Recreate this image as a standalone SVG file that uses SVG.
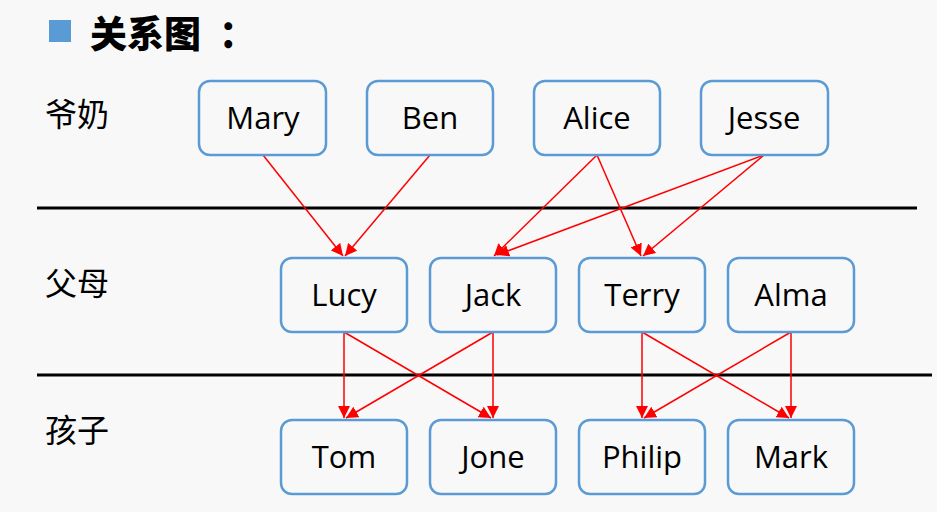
<svg xmlns="http://www.w3.org/2000/svg" width="937" height="512" viewBox="0 0 937 512">
<defs>
<style>
.box{fill:#f8f8f8;stroke:#5b9bd5;stroke-width:2.5}
.t{font-family:"Open Sans","Liberation Sans",sans-serif;font-size:31px;fill:#000;text-anchor:middle}
.cjk{font-family:"Noto Sans CJK SC",sans-serif;font-size:32px;fill:#000}
.ttl{font-family:"Noto Sans CJK SC",sans-serif;font-size:37px;font-weight:900;fill:#000}
.e{stroke:#ff0000;stroke-width:1.5;fill:none;marker-end:url(#ah)}
.sep{stroke:#000;stroke-width:3}
</style>
<marker id="ah" viewBox="0 0 10 10" refX="10" refY="5" markerWidth="8" markerHeight="8" orient="auto" markerUnits="strokeWidth">
<path d="M0,0 L10,5 L0,10 z" fill="#ff0000"/>
</marker>
</defs>
<rect width="937" height="512" fill="#f8f8f8"/>
<rect x="49" y="20" width="22" height="22" fill="#5b9bd5"/>
<text class="ttl" x="90" y="48">关系图</text>
<text class="ttl" x="219" y="48">：</text>
<text class="cjk" x="45" y="126">爷奶</text>
<text class="cjk" x="45" y="295">父母</text>
<text class="cjk" x="45" y="442">孩子</text>
<line class="sep" x1="37" y1="208" x2="917" y2="208"/>
<line class="sep" x1="37" y1="375" x2="932" y2="375"/>
<g id="connectors">
<line class="e" x1="263" y1="155" x2="343" y2="256"/>
<line class="e" x1="430" y1="155" x2="345" y2="256"/>
<line class="e" x1="597" y1="155" x2="494" y2="256"/>
<line class="e" x1="764" y1="155" x2="497" y2="255"/>
<line class="e" x1="597" y1="155" x2="641" y2="256"/>
<line class="e" x1="764" y1="155" x2="643" y2="256"/>
<line class="e" x1="344" y1="332" x2="344" y2="418"/>
<line class="e" x1="344" y1="332" x2="491" y2="418"/>
<line class="e" x1="493" y1="332" x2="346" y2="418"/>
<line class="e" x1="493" y1="332" x2="493" y2="418"/>
<line class="e" x1="642" y1="332" x2="642" y2="418"/>
<line class="e" x1="642" y1="332" x2="789" y2="418"/>
<line class="e" x1="791" y1="332" x2="644" y2="418"/>
<line class="e" x1="791" y1="332" x2="791" y2="418"/>
</g>
<g id="mary"><rect class="box" x="199" y="81" width="127" height="74" rx="11"/><text class="t" x="263" y="129">Mary</text></g>
<g id="ben"><rect class="box" x="367" y="81" width="126" height="74" rx="11"/><text class="t" x="430" y="129">Ben</text></g>
<g id="alice"><rect class="box" x="534" y="81" width="126" height="74" rx="11"/><text class="t" x="597" y="129">Alice</text></g>
<g id="jesse"><rect class="box" x="701" y="81" width="127" height="74" rx="11"/><text class="t" x="764" y="129">Jesse</text></g>
<g id="lucy"><rect class="box" x="281" y="258" width="126" height="74" rx="11"/><text class="t" x="344" y="306">Lucy</text></g>
<g id="jack"><rect class="box" x="430" y="258" width="126" height="74" rx="11"/><text class="t" x="493" y="306">Jack</text></g>
<g id="terry"><rect class="box" x="579" y="258" width="126" height="74" rx="11"/><text class="t" x="642" y="306">Terry</text></g>
<g id="alma"><rect class="box" x="728" y="258" width="126" height="74" rx="11"/><text class="t" x="791" y="306">Alma</text></g>
<g id="tom"><rect class="box" x="281" y="420" width="126" height="74" rx="11"/><text class="t" x="344" y="468">Tom</text></g>
<g id="jone"><rect class="box" x="430" y="420" width="126" height="74" rx="11"/><text class="t" x="493" y="468">Jone</text></g>
<g id="philip"><rect class="box" x="579" y="420" width="126" height="74" rx="11"/><text class="t" x="642" y="468">Philip</text></g>
<g id="mark"><rect class="box" x="728" y="420" width="126" height="74" rx="11"/><text class="t" x="791" y="468">Mark</text></g>
</svg>
